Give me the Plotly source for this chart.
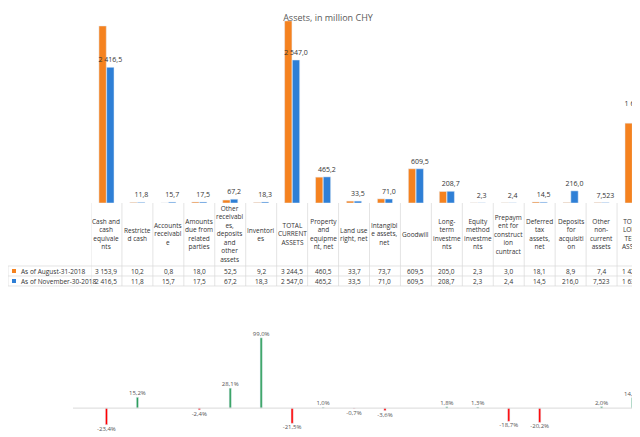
import plotly.graph_objects as go

categories = ["Cash and<br>cash<br>equivale<br>nts", "Restricte<br>d cash", "Accounts<br>receivabl<br>e",
              "Amounts<br>due from<br>related<br>parties", "Other<br>receivabl<br>es,<br>deposits<br>and<br>other<br>assets",
              "Inventori<br>es", "TOTAL<br>CURRENT<br>ASSETS", "Property<br>and<br>equipme<br>nt, net",
              "Land use<br>right, net", "Intangibl<br>e assets,<br>net", "Goodwill", "Long-<br>term<br>investme<br>nts",
              "Equity<br>method<br>investme<br>nts", "Prepaym<br>ent for<br>construct<br>ion<br>cuntract",
              "Deferred<br>tax<br>assets,<br>net", "Deposits<br>for<br>acquisiti<br>on", "Other<br>non-<br>current<br>assets",
              "TOTAL<br>LONG-<br>TERM<br>ASSETS"]
aug = [3153.9, 10.2, 0.8, 18.0, 52.5, 9.2, 3244.5, 460.5, 33.7, 73.7, 609.5, 205.0, 2.3, 3.0, 18.1, 8.9, 7.4, 1422.0]
nov = [2416.5, 11.8, 15.7, 17.5, 67.2, 18.3, 2547.0, 465.2, 33.5, 71.0, 609.5, 208.7, 2.3, 2.4, 14.5, 216.0, 7.523, 1630.6]
aug_txt = ["3 153,9", "10,2", "0,8", "18,0", "52,5", "9,2", "3 244,5", "460,5", "33,7", "73,7", "609,5", "205,0",
           "2,3", "3,0", "18,1", "8,9", "7,4", "1 422,0"]
nov_txt = ["2 416,5", "11,8", "15,7", "17,5", "67,2", "18,3", "2 547,0", "465,2", "33,5", "71,0", "609,5", "208,7",
           "2,3", "2,4", "14,5", "216,0", "7,523", "1 630,6"]
series_names = ["As of August-31-2018", "As of November-30-2018"]
change = [-23.4, 15.2, None, -2.4, 28.1, 99.0, -21.5, 1.0, -0.7, -3.6, None, 1.8, 1.3, -18.7, -20.2, None, 2.0, 14.7]

idx = list(range(len(categories)))
W, H = 640, 437
x0 = 83 / W
ORANGE, BLUE = "#f5821f", "#2e7fd6"
GRID = "#d9d9d9"

fig = go.Figure()
fig.add_trace(go.Bar(x=idx, y=aug, marker_color=ORANGE, name=series_names[0]))
fig.add_trace(go.Bar(x=idx, y=nov, marker_color=BLUE, name=series_names[1],
                     text=nov_txt, textposition="outside", constraintext="none",
                     textfont=dict(size=7, color="#333"), cliponaxis=False))

ch_col = ["#ff0000" if (v is not None and v < 0) else "#2e9e5b" for v in change]
ch_txt = ["" if v is None else f"{v:.1f}%".replace(".", ",") for v in change]
fig.add_trace(go.Bar(x=idx, y=change, marker_color=ch_col, width=0.07, text=ch_txt,
                     textposition="outside", constraintext="none",
                     textfont=dict(size=6, color="#555"), cliponaxis=False,
                     xaxis="x2", yaxis="y2"))

# data table drawn with annotations and lines
def py(p):
    return 1 - p / H

ann = []
for i, c in enumerate(categories):
    ann.append(dict(x=i, xref="x", y=py(226), yref="paper", text=c, showarrow=False,
                    font=dict(size=6.5, color="#333"), align="center"))
    for r, t in enumerate([aug_txt[i], nov_txt[i]]):
        ann.append(dict(x=i, xref="x", y=py(263 + r * 10), yref="paper", text=t, showarrow=False,
                        font=dict(size=6.5, color="#333")))
for r, nm in enumerate(series_names):
    ann.append(dict(x=11 / W, xref="paper", y=py(263 + r * 10), yref="paper", text=nm,
                    showarrow=False, xanchor="left", font=dict(size=6.5, color="#333")))

shapes = []
for i in range(len(categories) + 1):
    shapes.append(dict(type="line", xref="x", yref="paper", x0=i - 0.5, x1=i - 0.5,
                       y0=py(195), y1=py(278), line=dict(color=GRID, width=0.7)))
shapes.append(dict(type="line", xref="paper", yref="paper", x0=0, x1=0, y0=py(258), y1=py(278),
                   line=dict(color=GRID, width=0.7)))
for yy in [258, 268, 278]:
    shapes.append(dict(type="line", xref="paper", yref="paper", x0=0, x1=1, y0=py(yy), y1=py(yy),
                       line=dict(color=GRID, width=0.7)))
for r, c in enumerate([ORANGE, BLUE]):
    yc = 263 + r * 10
    shapes.append(dict(type="rect", xref="paper", yref="paper", x0=4 / W, x1=8 / W,
                       y0=py(yc + 2), y1=py(yc - 2), fillcolor=c, line_width=0))
shapes.append(dict(type="line", xref="paper", yref="y2", x0=65 / W, x1=1, y0=0, y1=0,
                   line=dict(color=GRID, width=1)))

fig.update_layout(
    width=W, height=H, margin=dict(l=0, r=0, t=0, b=0),
    paper_bgcolor="white", plot_bgcolor="white", showlegend=False,
    barmode="group", bargap=0.5, bargroupgap=0.05,
    font=dict(family="Open Sans, Liberation Sans", color="#333"),
    title=dict(text="Assets, in million CHY", x=0.5, y=0.985, font=dict(size=9, color="#595959")),
    xaxis=dict(domain=[x0, 1], range=[-0.5, 17.5], visible=False),
    yaxis=dict(domain=[py(195), py(10)], range=[0, 3296], visible=False),
    xaxis2=dict(domain=[x0, 1], range=[-0.5, 17.5], visible=False, anchor="y2"),
    yaxis2=dict(domain=[0, py(305)], range=[-52, 134], visible=False, anchor="x2"),
    annotations=ann, shapes=shapes,
)

fig.write_html("out.html")
